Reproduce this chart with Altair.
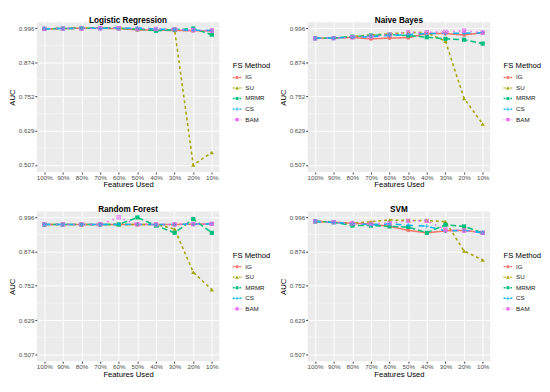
import altair as alt
import pandas as pd

cats = ["100%", "90%", "80%", "70%", "60%", "50%", "40%", "30%", "20%", "10%"]
methods = ["IG", "SU", "MRMR", "CS", "BAM"]
colors = ["#F8766D", "#A3A500", "#00BF7D", "#00B0F6", "#E76BF3"]
y_ticks = [0.507, 0.629, 0.752, 0.874, 0.996]
y_minor = [0.568, 0.6905, 0.813, 0.935]

# Logistic Regression
lr_ig = [0.994, 0.995, 0.996, 0.996, 0.995, 0.990, 0.989, 0.988, 0.987, 0.986]
lr_su = [0.994, 0.995, 0.996, 0.996, 0.996, 0.993, 0.992, 0.991, 0.507, 0.552]
lr_mrmr = [0.994, 0.995, 0.996, 0.997, 0.996, 0.993, 0.987, 0.991, 0.995, 0.973]
lr_cs = [0.994, 0.995, 0.996, 0.996, 0.996, 0.997, 0.993, 0.991, 0.989, 0.988]
lr_bam = [0.994, 0.995, 0.995, 0.996, 0.996, 0.994, 0.994, 0.993, 0.989, 0.988]

# Naive Bayes
nb_ig = [0.960, 0.961, 0.963, 0.958, 0.961, 0.962, 0.977, 0.977, 0.972, 0.980]
nb_su = [0.960, 0.961, 0.966, 0.972, 0.976, 0.981, 0.980, 0.950, 0.745, 0.654]
nb_mrmr = [0.960, 0.961, 0.966, 0.970, 0.973, 0.970, 0.964, 0.958, 0.955, 0.941]
nb_cs = [0.960, 0.961, 0.964, 0.966, 0.970, 0.973, 0.977, 0.978, 0.978, 0.980]
nb_bam = [0.960, 0.961, 0.963, 0.966, 0.973, 0.981, 0.981, 0.983, 0.987, 0.980]

# Random Forest
rf_ig = [0.971, 0.971, 0.971, 0.971, 0.971, 0.971, 0.971, 0.971, 0.972, 0.973]
rf_su = [0.971, 0.971, 0.971, 0.971, 0.971, 0.971, 0.971, 0.955, 0.800, 0.738]
rf_mrmr = [0.971, 0.971, 0.971, 0.971, 0.971, 0.996, 0.967, 0.941, 0.990, 0.941]
rf_cs = [0.971, 0.971, 0.971, 0.971, 0.971, 0.971, 0.971, 0.971, 0.972, 0.973]
rf_bam = [0.971, 0.971, 0.971, 0.971, 0.996, 0.971, 0.971, 0.971, 0.972, 0.973]

# SVM
svm_ig = [0.982, 0.979, 0.975, 0.973, 0.964, 0.950, 0.941, 0.948, 0.950, 0.941]
svm_su = [0.982, 0.979, 0.975, 0.981, 0.987, 0.985, 0.985, 0.981, 0.876, 0.844]
svm_mrmr = [0.982, 0.979, 0.967, 0.967, 0.964, 0.962, 0.941, 0.970, 0.964, 0.941]
svm_cs = [0.982, 0.978, 0.975, 0.970, 0.973, 0.968, 0.965, 0.948, 0.950, 0.941]
svm_bam = [0.982, 0.979, 0.975, 0.973, 0.976, 0.984, 0.984, 0.952, 0.949, 0.941]

FONT = "Liberation Sans"

point_shapes = [
    "circle",
    "triangle-up",
    "square",
    "M-1,-0.2H-0.2V-1H0.2V-0.2H1V0.2H0.2V1H-0.2V0.2H-1Z",
    "M-1,-1H1V1H-1Z M-0.7,-0.7V0.7H0.7V-0.7Z "
    "M-0.85,-1L1,0.85L0.85,1L-1,-0.85Z M0.85,-1L1,-0.85L-0.85,1L-1,0.85Z",
]
point_sizes = [18, 20, 16, 22, 26]


def seg(a, b, t=0.17):
    return f"M{a},-{t}H{b}V{t}H{a}Z "


legend_shapes = [
    seg(-1, -0.5) + seg(0.5, 1) + "M-0.38,0A0.38,0.38,0,1,0,0.38,0A0.38,0.38,0,1,0,-0.38,0Z",
    seg(-1, -0.8) + seg(-0.65, -0.5) + seg(0.5, 0.65) + seg(0.8, 1) + "M0,-0.42L0.44,0.34H-0.44Z",
    seg(-1, -0.55) + seg(0.55, 0.95) + "M-0.34,-0.34H0.34V0.34H-0.34Z",
    seg(-1, -0.55) + seg(0.55, 1) + "M-0.42,-0.08H-0.08V-0.42H0.08V-0.08H0.42V0.08H0.08V0.42H-0.08V0.08H-0.42Z",
    seg(-1, -0.9) + seg(-0.72, -0.62) + seg(0.62, 0.72) + seg(0.9, 1) + "M-0.38,-0.38H0.38V0.38H-0.38Z",
]


def long_df(series):
    rows = []
    for m, vals in zip(methods, series):
        for c, v in zip(cats, vals):
            rows.append({"feat": c, "method": m, "auc": v})
    return pd.DataFrame(rows)


yscale = alt.Scale(domain=[0.482, 1.0176], nice=False, zero=False)
xscale = alt.Scale(type="point", domain=cats, padding=0.4)
xaxis = alt.Axis(title="Features Used", labelAngle=0)
yaxis = alt.Axis(title="AUC", values=y_ticks, format=".3f")


def panel(title, series):
    df = long_df(series)
    base = alt.Chart(df)
    X = alt.X("feat:N", scale=xscale, axis=xaxis)
    Y = alt.Y("auc:Q", scale=yscale, axis=yaxis)
    minor = alt.Chart(pd.DataFrame({"v": y_minor})).mark_rule(
        color="white", strokeWidth=0.5
    ).encode(y=alt.Y("v:Q", scale=yscale, axis=yaxis))
    lines = base.mark_line(strokeWidth=1.6).encode(
        x=X,
        y=Y,
        color=alt.Color("method:N", scale=alt.Scale(domain=methods, range=colors), legend=None),
        strokeDash=alt.StrokeDash(
            "method:N",
            scale=alt.Scale(domain=methods, range=[[1, 0], [3, 3], [6, 3], [6, 6], [1.5, 4.5]]),
            legend=None,
        ),
        detail="method:N",
    )
    points = base.mark_point(filled=True, opacity=1).encode(
        x=X,
        y=Y,
        color=alt.Color("method:N", scale=alt.Scale(domain=methods, range=colors), legend=None),
        shape=alt.Shape("method:N", scale=alt.Scale(domain=methods, range=point_shapes), legend=None),
        size=alt.Size("method:N", scale=alt.Scale(domain=methods, range=point_sizes), legend=None),
    )
    leg = base.transform_filter("false").mark_point(filled=True, opacity=1).encode(
        x=X,
        y=Y,
        color=alt.Color(
            "method:N",
            scale=alt.Scale(domain=methods, range=colors),
            legend=alt.Legend(title="FS Method", orient="none", legendX=204, legendY=42),
        ),
        shape=alt.Shape(
            "method:N",
            scale=alt.Scale(domain=methods, range=legend_shapes),
            legend=alt.Legend(title="FS Method", orient="none", legendX=204, legendY=42),
        ),
    )
    return (
        alt.layer(minor, lines, points, leg)
        .resolve_scale(shape="independent", color="independent", size="independent")
        .properties(width=190, height=156, title=title)
    )


p1 = panel("Logistic Regression", [lr_ig, lr_su, lr_mrmr, lr_cs, lr_bam])
p2 = panel("Naive Bayes", [nb_ig, nb_su, nb_mrmr, nb_cs, nb_bam])
p3 = panel("Random Forest", [rf_ig, rf_su, rf_mrmr, rf_cs, rf_bam])
p4 = panel("SVM", [svm_ig, svm_su, svm_mrmr, svm_cs, svm_bam])

chart = (
    alt.vconcat(
        alt.hconcat(p1, p2, spacing=8),
        alt.hconcat(p3, p4, spacing=8),
        spacing=16,
    )
    .properties(padding=0, background="white")
    .configure_view(fill="#EBEBEB", stroke=None)
    .configure_axis(
        labelFont=FONT,
        titleFont=FONT,
        labelFontSize=6.5,
        labelColor="#4D4D4D",
        titleFontSize=8,
        titleFontWeight="normal",
        titleColor="black",
        tickColor="#333333",
        tickSize=2,
        labelPadding=1,
        domain=False,
        grid=True,
        gridColor="white",
        gridWidth=1,
    )
    .configure_axisX(titlePadding=0)
    .configure_axisY(titlePadding=2)
    .configure_title(font=FONT, fontSize=8.5, fontWeight="bold", anchor="middle", offset=-2, color="black")
    .configure_legend(
        titleFont=FONT,
        labelFont=FONT,
        titleFontSize=8,
        titleFontWeight="normal",
        titleColor="black",
        labelFontSize=6.5,
        labelColor="#1a1a1a",
        symbolSize=81,
        symbolStrokeWidth=0,
        labelOffset=4,
        rowPadding=3,
        titlePadding=3,
        padding=0,
    )
)

chart.save("out.html", embed_options={"renderer": "svg", "actions": False})
